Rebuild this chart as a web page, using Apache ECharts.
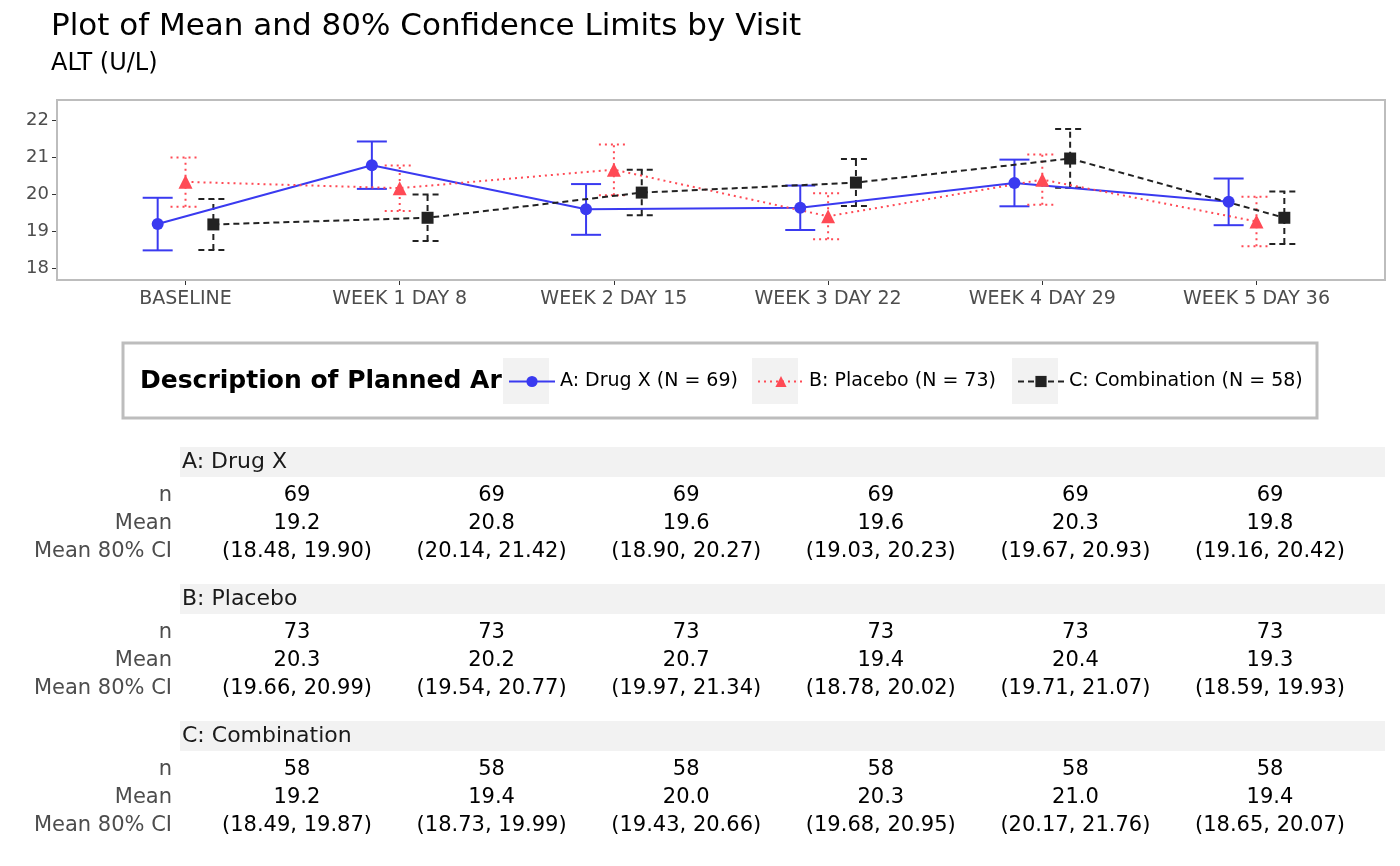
<!DOCTYPE html>
<html><head><meta charset="utf-8">
<script src="https://cdn.jsdelivr.net/npm/echarts@6/dist/echarts.min.js"></script>
<style>html,body{margin:0;padding:0;background:#fff}#c{width:1400px;height:866px}</style>
</head><body><div id="c"></div>
<script>
const visits = ["BASELINE","WEEK 1 DAY 8","WEEK 2 DAY 15","WEEK 3 DAY 22","WEEK 4 DAY 29","WEEK 5 DAY 36"];
const groups = ["A: Drug X","B: Placebo","C: Combination"];
const legendNames = ["A: Drug X (N = 69)","B: Placebo (N = 73)","C: Combination (N = 58)"];
const yTicks = [18,19,20,21,22];
const nA = [69,69,69,69,69,69], nB = [73,73,73,73,73,73], nC = [58,58,58,58,58,58];
const meanA = [19.19,20.78,19.59,19.63,20.30,19.79];
const lowA = [18.48,20.14,18.90,19.03,19.67,19.16];
const highA = [19.90,21.42,20.27,20.23,20.93,20.42];
const meanB = [20.33,20.16,20.66,19.40,20.39,19.26];
const lowB = [19.66,19.54,19.97,18.78,19.71,18.59];
const highB = [20.99,20.77,21.34,20.02,21.07,19.93];
const meanC = [19.18,19.36,20.04,20.31,20.96,19.36];
const lowC = [18.49,18.73,19.43,19.68,20.17,18.65];
const highC = [19.87,19.99,20.66,20.95,21.76,20.07];
const colors = ["#3a3af0","#ff4a55","#222222"];
const lineTypes = ["solid",[2,4],[6,4]];
const symbols = ["circle","triangle","rect"];
const offsets = [-0.13,0,0.13];

const means=[meanA,meanB,meanC], lows=[lowA,lowB,lowC], highs=[highA,highB,highC], ns=[nA,nB,nC];
const series=[];
for(let g=0;g<3;g++){
  series.push({type:'line',name:legendNames[g],data:means[g].map((v,i)=>[i+offsets[g],v]),
    symbol:symbols[g],symbolSize:g==1?14:12,lineStyle:{color:colors[g],width:2,type:lineTypes[g]},
    itemStyle:{color:colors[g]},z:3});
  series.push({type:'custom',name:legendNames[g],data:lows[g].map((v,i)=>[i+offsets[g],v,highs[g][i]]),
    renderItem:(p,api)=>{
      const a=api.coord([api.value(0),api.value(1)]), b=api.coord([api.value(0),api.value(2)]);
      const st={stroke:colors[g],lineWidth:2,lineDash:g==0?null:lineTypes[g]};
      return {type:'group',children:[
        {type:'line',shape:{x1:a[0],y1:a[1],x2:b[0],y2:b[1]},style:st},
        {type:'line',shape:{x1:a[0]-15,y1:a[1],x2:a[0]+15,y2:a[1]},style:st},
        {type:'line',shape:{x1:b[0]-15,y1:b[1],x2:b[0]+15,y2:b[1]},style:st}]};
    },z:2});
}
const colX = i=>297+i*194.6;
const F='"DejaVu Sans"';
const graphics=[
  {type:'rect',shape:{x:57,y:100,width:1328,height:180},style:{fill:'none',stroke:'#bdbdbd',lineWidth:2},z:10},
  {type:'rect',shape:{x:123,y:343,width:1194,height:75},style:{fill:'#fff',stroke:'#bdbdbd',lineWidth:3},z:0},
  {type:'text',x:140,y:381,style:{text:'Description of Planned Arm',font:'bold 25px '+F,fill:'#000',verticalAlign:'middle'},z:1},
  {type:'rect',shape:{x:503,y:358,width:46,height:46},style:{fill:'#f2f2f2'},z:2},
  {type:'rect',shape:{x:549,y:358,width:203,height:46},style:{fill:'#fff'},z:2},
  {type:'rect',shape:{x:752,y:358,width:46,height:46},style:{fill:'#f2f2f2'},z:2},
  {type:'rect',shape:{x:1012,y:358,width:46,height:46},style:{fill:'#f2f2f2'},z:2}
];
const rowLabels=["n","Mean","Mean 80% CI"];
for(let g=0;g<3;g++){
  const y0=462+g*137;
  graphics.push({type:'rect',shape:{x:180,y:y0-15,width:1205,height:30},style:{fill:'#f2f2f2'}});
  graphics.push({type:'text',x:182,y:y0,style:{text:groups[g],font:'22px '+F,fill:'#1a1a1a',verticalAlign:'middle'}});
  rowLabels.forEach((r,k)=>graphics.push({type:'text',x:172,y:y0+34+k*28,style:{text:r,font:'21px '+F,fill:'#4d4d4d',align:'right',verticalAlign:'middle'}}));
  for(let i=0;i<6;i++){
    const vals=[String(ns[g][i]),means[g][i].toFixed(1),'('+lows[g][i].toFixed(2)+', '+highs[g][i].toFixed(2)+')'];
    vals.forEach((t,k)=>graphics.push({type:'text',x:colX(i),y:y0+34+k*28,style:{text:t,font:'21px '+F,fill:'#000',align:'center',verticalAlign:'middle'}}));
  }
}
const legLefts=[505,754,1014];
const chart=echarts.init(document.getElementById('c'));
chart.setOption({
  animation:false,
  title:{text:'Plot of Mean and 80% Confidence Limits by Visit',subtext:'ALT (U/L)',left:46,top:6,
    textStyle:{fontFamily:'DejaVu Sans',fontSize:31,fontWeight:'normal',color:'#000'},
    subtextStyle:{fontFamily:'DejaVu Sans',fontSize:24,color:'#000'},itemGap:10},
  grid:{left:57,top:100,width:1328,height:180},
  xAxis:{type:'value',min:-0.6,max:5.6,splitLine:{show:false},
    axisLine:{show:false,onZero:false},axisTick:{show:true,length:5,lineStyle:{color:'#333'},customValues:[0,1,2,3,4,5]},
    axisLabel:{color:'#4d4d4d',fontSize:19,fontFamily:'DejaVu Sans',margin:10,customValues:[0,1,2,3,4,5],
      formatter:v=>visits[Math.round(v)]}},
  yAxis:{type:'value',min:17.68,max:22.54,splitLine:{show:false},axisLine:{show:false,onZero:false},
    axisTick:{show:true,length:5,lineStyle:{color:'#333'},customValues:yTicks},
    axisLabel:{color:'#4d4d4d',fontSize:18,fontFamily:'DejaVu Sans',customValues:yTicks,formatter:v=>String(Math.round(v))}},
  legend:legendNames.map((n,k)=>({left:legLefts[k]-2,top:367,itemWidth:46,itemHeight:14,
    data:[n],textStyle:{fontFamily:'DejaVu Sans',fontSize:19,color:'#000'},z:5})),
  graphic:graphics,
  series:series
});
</script></body></html>
